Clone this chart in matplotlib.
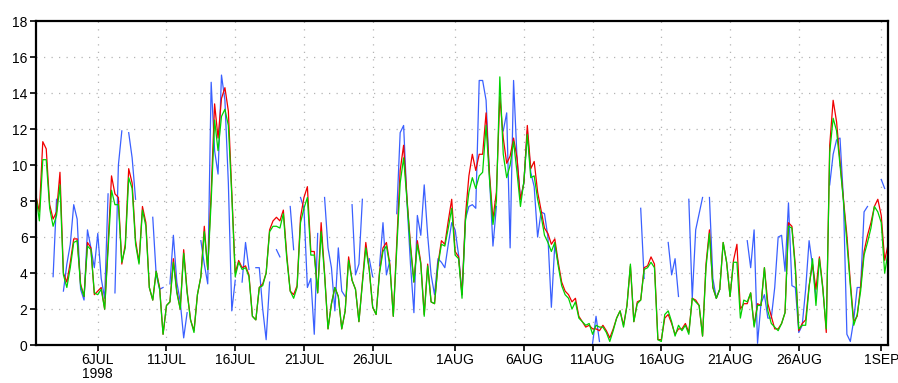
import numpy as np
import pandas as pd
import matplotlib
matplotlib.use("Agg")
import matplotlib.pyplot as plt
import matplotlib.dates as mdates

nan = np.nan

# 6-hourly series, 1JUL1998 12Z .. 1SEP1998 12Z
start_time = "1998-07-01 12:00"

red_vals = [
    8.3, 7.4, 11.3, 10.9, 7.8, 7.0, 7.4, 9.6, 4.0, 3.5,
    4.6, 5.9, 5.9, 3.4, 2.7, 5.7, 5.4, 2.8, 3.0, 3.2,
    2.0, 5.6, 9.4, 8.4, 8.2, 4.5, 5.6, 9.8, 9.0, 5.8,
    4.6, 7.7, 6.8, 3.2, 2.5, 4.1, 3.2, 0.6, 2.2, 2.4,
    4.8, 3.0, 2.0, 5.3, 3.0, 1.4, 0.8, 2.8, 3.8, 6.6,
    4.2, 8.5, 13.4, 11.5, 13.7, 14.3, 13.0, 8.5, 4.0, 4.7,
    4.3, 4.4, 3.9, 1.6, 1.4, 3.2, 3.4, 4.0, 6.4, 6.9,
    7.1, 6.9, 7.5, 5.0, 3.0, 2.8, 3.3, 7.1, 8.2, 8.8,
    5.2, 5.2, 2.9, 6.8, 4.0, 0.9, 2.3, 3.2, 2.7, 0.9,
    1.9, 4.9, 3.6, 3.1, 1.3, 3.5, 5.7, 4.2, 2.1, 1.7,
    4.1, 5.4, 5.7, 4.5, 1.6, 5.6, 9.7, 11.1, 8.1, 5.6,
    3.5, 5.8, 4.6, 1.7, 4.5, 2.4, 2.3, 4.5, 5.8, 5.6,
    6.9, 8.1, 5.2, 4.9, 2.8, 7.2, 9.4, 10.6, 9.7, 10.6,
    10.6, 12.9, 9.5, 7.0, 8.5, 13.8, 11.5, 10.1, 10.5, 11.5,
    10.4, 8.1, 9.0, 12.2, 9.8, 10.2, 8.5, 7.5, 6.5, 6.2,
    5.6, 5.9, 4.6, 3.5, 3.0, 2.8, 2.4, 2.6, 1.6, 1.3,
    1.0, 1.1, 0.9, 0.9, 0.8, 1.1, 0.8, 0.4, 0.9, 1.5,
    1.9, 1.1, 2.2, 4.4, 1.3, 2.4, 2.5, 4.3, 4.4, 4.9,
    4.5, 0.3, 0.3, 1.5, 1.7, 1.2, 0.6, 0.9, 0.9, 1.2,
    0.7, 2.6, 2.5, 2.2, 0.5, 4.5, 6.4, 3.2, 2.6, 3.1,
    5.7, 4.6, 2.7, 4.7, 5.6, 2.0, 2.3, 2.3, 2.9, 1.1,
    2.3, 2.2, 4.3, 2.3, 1.6, 0.9, 0.9, 1.2, 1.8, 6.8,
    6.6, 4.4, 0.8, 1.2, 1.4, 3.3, 4.5, 3.1, 4.9, 3.2,
    0.7, 11.1, 13.6, 12.4, 10.2, 8.1, 6.1, 3.5, 1.3, 1.6,
    3.3, 5.2, 6.1, 6.8, 7.7, 8.1, 7.2, 4.7, 5.6,
]

green_vals = [
    8.3, 6.9, 10.3, 10.3, 7.6, 6.6, 7.2, 8.9, 3.9, 3.2,
    4.3, 5.7, 5.8, 3.3, 2.7, 5.5, 5.3, 2.9, 2.8, 3.1,
    2.0, 5.3, 8.6, 7.8, 7.8, 4.6, 5.4, 9.3, 8.7, 5.6,
    4.5, 7.5, 6.6, 3.2, 2.5, 4.1, 3.1, 0.6, 2.2, 2.4,
    4.6, 2.9, 2.0, 5.1, 2.9, 1.4, 0.7, 2.8, 3.8, 6.3,
    4.2, 8.0, 12.5, 10.8, 12.7, 13.1, 12.2, 8.3, 3.8, 4.6,
    4.2, 4.3, 3.8, 1.6, 1.4, 3.2, 3.3, 4.0, 6.3, 6.6,
    6.6, 6.5, 7.3, 4.8, 3.0, 2.6, 3.2, 6.8, 7.6, 8.2,
    5.0, 5.0, 2.9, 6.3, 3.9, 0.9, 2.3, 3.2, 2.7, 0.9,
    1.9, 4.7, 3.6, 3.1, 1.3, 3.4, 5.4, 4.2, 2.1, 1.7,
    4.0, 5.2, 5.5, 4.4, 1.6, 5.3, 9.0, 10.4, 8.0, 5.4,
    3.5, 5.6, 4.5, 1.6, 4.4, 2.4, 2.3, 4.4, 5.6, 5.5,
    6.5, 7.6, 5.0, 4.8, 2.6, 6.9, 8.5, 9.3, 8.7, 9.4,
    9.6, 12.2, 9.2, 6.7, 8.0, 14.9, 10.6, 9.3, 10.0, 11.3,
    9.6, 7.7, 9.1, 11.7, 9.3, 9.4, 8.1, 7.2, 6.1, 5.7,
    5.2, 5.7, 4.4, 3.3, 2.8, 2.6, 2.0, 2.4, 1.5, 1.3,
    1.1, 1.2, 0.6, 1.1, 1.0, 1.0, 0.7, 0.2, 0.8, 1.5,
    1.9, 1.0, 2.2, 4.5, 1.3, 2.3, 2.5, 4.2, 4.3, 4.6,
    4.3, 0.3, 0.2, 1.7, 1.9, 1.3, 0.5, 1.1, 0.8, 1.1,
    0.6, 2.6, 2.4, 2.2, 0.5, 4.3, 6.2, 3.2, 2.6, 3.1,
    5.7, 4.6, 2.7, 4.6, 4.6, 1.5, 2.5, 2.4, 2.9, 1.0,
    2.2, 2.2, 4.3, 1.9, 1.2, 1.0, 0.8, 1.2, 1.8, 6.6,
    6.5, 4.2, 0.9, 1.1, 1.1, 3.2, 4.8, 2.2, 4.8, 3.1,
    0.9, 10.7, 12.6, 11.9, 10.0, 8.0, 5.7, 3.3, 1.1, 1.7,
    3.0, 5.0, 5.7, 6.5, 7.7, 7.4, 6.8, 4.0, 5.2,
]

# observed series has missing values (gaps in the line)
blue_vals = [
    nan, nan, nan, nan, nan, 3.8, 8.1, nan, 3.0, 4.5,
    5.6, 7.8, 7.0, 3.1, 2.5, 6.4, 5.4, 4.3, 6.2, 3.7,
    2.6, 8.4, nan, 2.9, 10.0, 11.9, nan, 11.8, 10.4, 8.1,
    nan, nan, nan, nan, 7.1, 3.9, 3.1, 3.2, nan, 3.4,
    6.1, 3.5, 2.4, 0.4, 1.8, nan, nan, nan, 5.8, 4.5,
    3.4, 14.6, 10.8, 9.5, 15.0, 13.6, 9.0, 1.9, 3.6, nan,
    3.5, 5.7, 4.2, nan, 4.3, 4.3, 2.0, 0.3, 3.5, nan,
    5.3, 4.9, nan, nan, 7.7, 5.3, nan, 8.2, 7.6, 3.2,
    3.7, 0.6, 6.2, nan, 8.2, 5.4, 4.3, 1.9, 5.4, 3.0,
    2.7, nan, 7.8, 3.9, 4.5, 8.1, nan, 4.8, 3.8, nan,
    4.4, 6.8, 3.9, 4.7, nan, 7.3, 11.8, 12.2, 7.9, 4.5,
    1.8, 7.2, 6.1, 8.9, 6.1, 3.9, 2.8, 4.8, 4.6, 4.3,
    5.6, 6.8, 6.4, 5.0, 2.8, 7.0, 7.7, 7.8, 7.6, 14.7,
    14.7, 13.6, 9.3, 5.5, 7.7, nan, 11.9, 12.9, 5.4, 14.7,
    10.4, 8.1, 9.0, 11.9, 9.6, 8.8, 6.0, 7.4, 7.3, 6.0,
    2.1, 5.6, 4.5, nan, nan, nan, nan, nan, nan, nan,
    nan, nan, 0.1, 1.6, 0.2, nan, nan, nan, nan, nan,
    nan, nan, nan, nan, nan, nan, 7.6, 3.7, nan, nan,
    nan, nan, nan, nan, 5.7, 3.9, 4.8, 2.7, nan, nan,
    8.1, 2.6, 6.4, 7.3, 8.2, nan, 8.2, 3.7, 2.6, 3.1,
    nan, nan, nan, nan, nan, nan, nan, 5.8, 4.3, 6.4,
    0.1, 2.3, 2.8, 1.5, 1.5, 3.2, 6.0, 6.1, 4.1, 7.9,
    3.3, 3.2, 0.7, 1.1, 3.1, 5.8, 4.4, 2.7, nan, nan,
    nan, 8.9, 10.6, 11.4, 11.5, 8.1, 0.6, 0.2, 1.4, 3.2,
    3.2, 7.4, 7.7, nan, nan, nan, 9.2, 8.7, nan,
]

tick_dates = ["1998-07-06", "1998-07-11", "1998-07-16", "1998-07-21",
              "1998-07-26", "1998-08-01", "1998-08-06", "1998-08-11",
              "1998-08-16", "1998-08-21", "1998-08-26", "1998-09-01"]
y_ticks = [0, 2, 4, 6, 8, 10, 12, 14, 16, 18]

times = pd.date_range(start_time, periods=len(red_vals), freq="6h")

plt.rcParams["font.family"] = ["Liberation Sans", "DejaVu Sans"]

fig = plt.figure(figsize=(8.98, 3.83), dpi=100)
ax = fig.add_axes([0.040, 0.099, 0.949, 0.846])

ax.plot(times, blue_vals, color="#3a60ff", lw=0.9)
ax.plot(times, red_vals, color="#f00000", lw=0.9)
ax.plot(times, green_vals, color="#00d200", lw=0.9)

ax.set_xlim(times[0], times[-1])
ax.set_ylim(0, 18)

ticks = pd.to_datetime(tick_dates)
labels = [f"{d.day}{d.strftime('%b').upper()}" for d in ticks]
labels[0] += "\n1998"
ax.set_xticks(ticks)
ax.set_xticklabels(labels, linespacing=0.95)
ax.set_yticks(y_ticks)

ax.tick_params(axis="both", direction="out", length=4, width=1.2,
               labelsize=10, pad=2, colors="black")

for v in y_ticks[1:-1]:
    ax.axhline(v, color="#b4b4b4", lw=0.9, ls=(0, (1, 5)), zorder=0)
for t in ticks:
    ax.axvline(t, color="#b4b4b4", lw=0.9, ls=(0, (1, 5)), zorder=0)

for s in ax.spines.values():
    s.set_linewidth(1.6)

fig.savefig("out.png", dpi=100)
